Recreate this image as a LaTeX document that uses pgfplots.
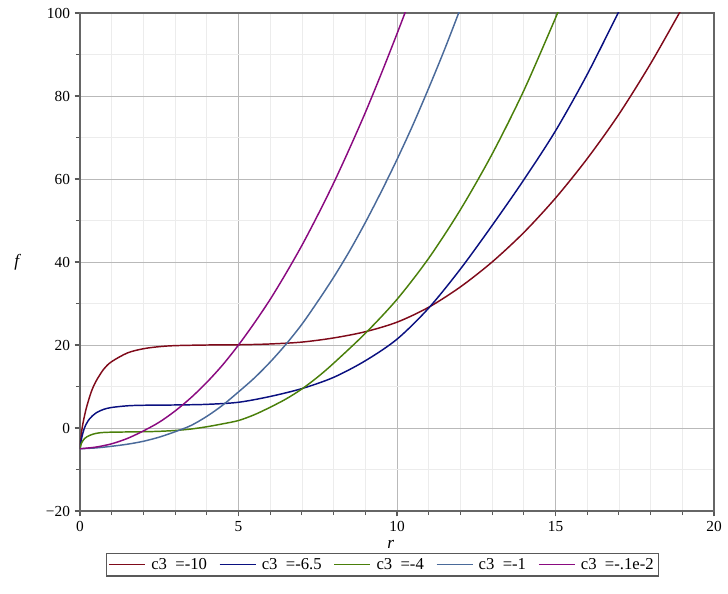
\documentclass[border=0pt]{standalone}
\usepackage{fontspec}
\setmainfont{Liberation Serif}
\usepackage{pgfplots}
\pgfplotsset{compat=1.18}
\definecolor{cA}{HTML}{7F0A1A}
\definecolor{cB}{HTML}{0A1080}
\definecolor{cC}{HTML}{4A7F0A}
\definecolor{cD}{HTML}{4A6A9A}
\definecolor{cE}{HTML}{8A0A80}
\begin{document}
\begin{tikzpicture}
\begin{axis}[
  scale only axis, width=475.5pt, height=373.5pt,
  xmin=0, xmax=20, ymin=-20, ymax=100,
  xtick={0,5,10,15,20}, ytick={-20,0,20,40,60,80,100},
  yticklabels={−20,0,20,40,60,80,100},
  minor x tick num=4, minor y tick num=1,
  grid=both,
  major grid style={gray!55, line width=0.5pt},
  minor grid style={gray!15, line width=0.5pt},
  axis line style={gray!80!black, line width=1.2pt},
  tick align=outside, tick pos=left,
  major tick length=4pt, minor tick length=3pt,
  tick style={gray!70!black, line width=0.8pt},
  ticklabel style={font=\fontsize{11.5}{12}\selectfont},
  /pgf/number format/assume math mode=true,
  xlabel={\textit{r}}, ylabel={\textit{f}},
  xlabel style={font=\fontsize{13}{13}\selectfont, at={(axis description cs:0.49,-0.068)}, anchor=center},
  ylabel style={font=\fontsize{13}{13}\selectfont, at={(axis description cs:-0.098,0.5)}, anchor=center, rotate=-90},
  legend columns=5,
  legend style={at={(axis description cs:0.477,-0.084)}, anchor=north,
    draw=gray!70!black, line width=1pt, font=\fontsize{12.5}{14}\selectfont,
    inner sep=1.5pt, /tikz/every even column/.append style={column sep=7pt},
    /tikz/every odd column/.append style={column sep=2pt}},
  legend image code/.code={\draw[#1, line width=1.1pt] (0cm,0cm) -- (0.95cm,0cm);},
  every axis plot/.append style={line width=1.1pt, smooth, tension=0.5},
]
\addplot[cA] coordinates {
(0,-5) (0.05,-1) (0.1,1.4) (0.2,4.8) (0.35,8.6) (0.5,11.2) (0.75,14.2) (1,16.0) (1.5,18.1) (2,19.1) (2.5,19.6) (3,19.85) (4,20.0) (5,20.05) (6,20.25) (7,20.7) (8,21.7) (9,23.2) (10,25.5) (11,29.1) (12,34.0) (13,40.0) (14,47.1) (15,55.4) (16,64.9) (17,75.6) (18,87.8) (18.95,100.6)
};
\addlegendentry{c3\ \ =-10}
\addplot[cB] coordinates {
(0,-5) (0.05,-2.5) (0.15,0.2) (0.3,2.2) (0.5,3.6) (0.75,4.5) (1,4.95) (1.5,5.35) (2,5.48) (3,5.55) (4,5.7) (5,6.2) (6,7.6) (7,9.5) (8,12.2) (9,16.2) (10,21.4) (11,28.9) (12,38.3) (13,48.8) (14,59.8) (15,71.6) (16,85.2) (17,100.4) (17.03,100.9)
};
\addlegendentry{c3\ \ =-6.5}
\addplot[cC] coordinates {
(0,-5) (0.05,-3.6) (0.15,-2.5) (0.3,-1.8) (0.5,-1.3) (0.8,-1.05) (1.5,-0.95) (2,-0.9) (2.5,-0.8) (3,-0.6) (3.5,-0.25) (4,0.3) (4.5,1.0) (5,1.8) (5.5,3.2) (6,5.0) (6.5,7.0) (7,9.4) (7.5,12.3) (8,15.6) (9,22.8) (10,31.0) (11,40.9) (12,52.6) (13,66.0) (14,81.3) (15,98.8) (15.1,100.8)
};
\addlegendentry{c3\ \ =-4}
\addplot[cD] coordinates {
(0,-5) (0.5,-4.8) (1,-4.4) (1.5,-3.9) (2,-3.2) (2.5,-2.2) (3,-0.9) (3.5,0.6) (4,2.8) (4.5,5.5) (5,8.7) (5.5,12.05) (6,15.9) (6.5,20.2) (7,25.0) (7.5,30.5) (8,36.3) (8.5,42.6) (9,49.5) (9.5,56.9) (10,64.7) (10.5,73.0) (11,81.9) (11.5,91.2) (12,101.1)
};
\addlegendentry{c3\ \ =-1}
\addplot[cE] coordinates {
(0,-5) (0.5,-4.6) (1,-3.8) (1.5,-2.5) (2,-0.7) (2.5,1.4) (3,4.1) (3.5,7.3) (4,11.0) (4.5,15.2) (5,20.0) (5.5,25.3) (6,31.0) (6.5,37.3) (7,44.0) (7.5,51.3) (8,59.0) (8.5,67.3) (9,76.0) (9.5,85.3) (10,95.0) (10.3,101.0)
};
\addlegendentry{c3\ \ =-.1e-2}
\end{axis}
\path ([shift={(-60pt,-61.5pt)}]current axis.south west) rectangle ([shift={(10.5pt,9.75pt)}]current axis.north east);
\end{tikzpicture}
\end{document}
